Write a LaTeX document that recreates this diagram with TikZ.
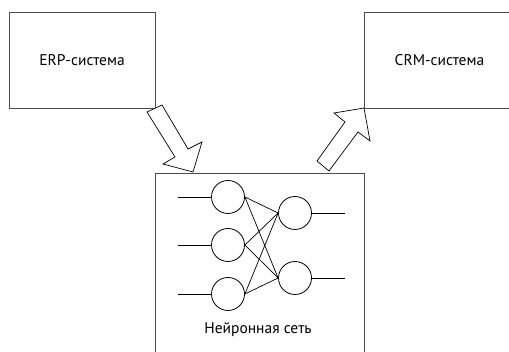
\documentclass[tikz,border=0pt]{standalone}
\usepackage{fontspec}
\setmainfont{PT Sans}
\begin{document}
\begin{tikzpicture}[x=1pt,y=-1pt,
  line width=0.8pt,
  sysbox/.style={draw=black!70, rectangle, inner sep=0pt, font=\fontsize{15.5}{18}\selectfont},
  neuron/.style={draw=black, circle, minimum size=33pt, inner sep=0pt},
  blockarrow/.style={draw=black, line width=0.7pt, fill=white, line join=miter}]
\useasboundingbox (0,0) rectangle (509,352);
\fill[white] (0,0) rectangle (509,352);
% boxes
\node[sysbox, minimum width=146pt, minimum height=96pt] (erp) at (82,60) {ERP-система};
\node[sysbox, minimum width=151pt, minimum height=96pt, text width=146pt, align=center] (crm) at (439.5,60) {CRM-система};
\node[sysbox, minimum width=209pt, minimum height=187pt] (nn) at (259.5,266.5) {};
\node[font=\fontsize{15.5}{18}\selectfont, inner sep=0pt] (nnlabel) at (258,330) {Нейронная сеть};
% neurons
\node[neuron] (i1) at (228,197) {};
\node[neuron] (i2) at (228,245) {};
\node[neuron] (i3) at (228,294) {};
\node[neuron] (o1) at (295,213) {};
\node[neuron] (o2) at (295,278) {};
\coordinate (a1) at (178,197);
\coordinate (a2) at (178,245);
\coordinate (a3) at (178,294);
\coordinate (b1) at (345,213);
\coordinate (b2) at (345,278);
\draw (a1) -- (i1.west);
\draw (a2) -- (i2.west);
\draw (a3) -- (i3.west);
\draw (o1.east) -- (b1);
\draw (o2.east) -- (b2);
\foreach \i in {i1,i2,i3}{
  \foreach \o in {o1,o2}{
    \draw[line width=0.7pt] (\i.east) -- (\o.west);
  }
}
% block arrows
\draw[blockarrow] (147,112) -- (162,105) -- (188,149) -- (202,142) -- (193,172) -- (163,164) -- (175,157) -- cycle;
\draw[blockarrow] (317,161) -- (345,122) -- (334,113) -- (364,108) -- (370,141) -- (358,132) -- (329,171) -- cycle;
\end{tikzpicture}
\end{document}
